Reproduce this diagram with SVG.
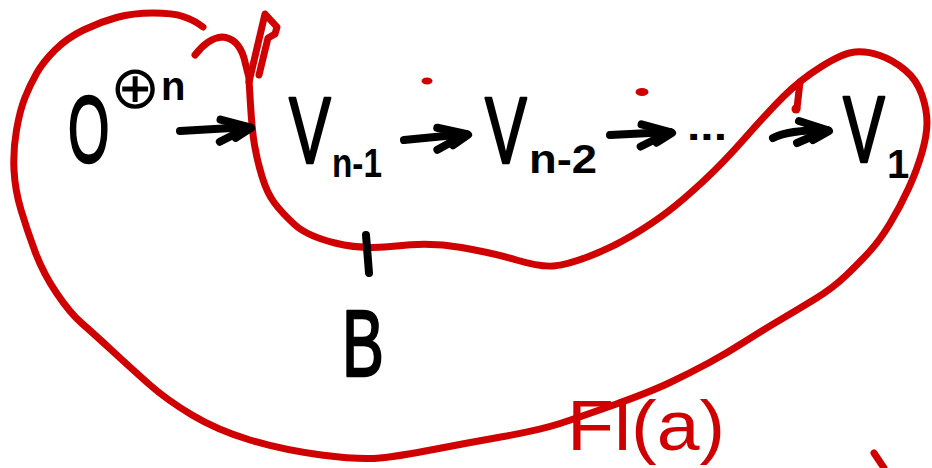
<svg xmlns="http://www.w3.org/2000/svg" width="932" height="468" viewBox="0 0 932 468">
<style>
  .ink { fill: none; stroke: #000; stroke-width: 8; stroke-linecap: round; stroke-linejoin: round; }
  .red { fill: none; stroke: #d00000; stroke-width: 7; stroke-linecap: round; stroke-linejoin: round; }
  .big { font-family: "Liberation Sans", Arial, sans-serif; font-size: 95px; fill: #000; stroke: #000; stroke-width: 2.5; stroke-linejoin: round; }
  .sub { font-family: "Liberation Sans", Arial, sans-serif; font-size: 40px; font-weight: bold; fill: #000; }
  .redtxt { font-family: "Liberation Sans", Arial, sans-serif; font-size: 70px; fill: #d00000; }
</style>
<defs>
  <marker id="dhead" markerUnits="userSpaceOnUse" markerWidth="40" markerHeight="40" refX="0" refY="0" orient="auto" overflow="visible">
    <path d="M-28,-9 L0,0 L-30,13 M-14,10 L2,1" fill="none" stroke="#000" stroke-width="8" stroke-linecap="round" stroke-linejoin="round"/>
  </marker>
</defs>
<rect width="932" height="468" fill="#fff"/>

<g id="region-flag">
  <path class="red" d="M249,80 L250.5,105 Q252,130 254.5,145 Q257,160 262,176.5 Q267,193 274.5,203 Q282,213 294.5,224.5 Q307,236 335,243 Q363,250 396.5,246 Q430,242 461.5,247.5 Q493,253 516.5,260 Q540,267 553.5,266 Q567,265 590,256 Q613,247 633,235 Q653,223 668,211.5 Q683,200 703,181.5 Q723,163 745,138 Q767,113 783.5,96.5 Q800,80 821.5,66.5 Q843,53 855,52 Q867,51 880,55.5 Q893,60 905,70 Q917,80 922,95 Q927,110 927,122.5 Q927,135 922,152.5 Q917,170 908.5,188.5 Q900,207 890,223.5 Q880,240 870,251 Q860,262 846.5,275 Q833,288 815,299 Q797,310 780,320 Q763,330 745,341.5 Q727,353 708.5,363 Q690,373 670,382.5 Q650,392 615,404.5 Q580,417 560,423.5 Q540,430 503.5,436.5 Q467,443 433.5,449.5 Q400,456 380,458 Q360,460 321.5,455 Q283,450 250,440 Q217,430 192,415 Q167,400 150,385 Q133,370 113,351.5 Q93,333 81.5,323 Q70,313 56.5,293 Q43,273 35,251.5 Q27,230 21,210 Q15,190 14,170 Q13,150 16.5,130 Q20,110 25,97.5 Q30,85 36.5,73.5 Q43,62 55,50 Q67,38 83.5,30 Q100,22 116.5,17.5 Q133,13 153,13 Q173,13 183,16.5 Q193,20 198,23.5 L203,27"/>
  <path class="red" d="M195,55 Q208,38 222,37 Q238,38 244,58 L249,78"/>
  <path class="red" d="M249,82 L265,14 L277,27 L275,34 L268,38 L259,75"/>
  <ellipse cx="427" cy="81" rx="5.5" ry="3.5" fill="#d00000"/>
  <ellipse cx="642" cy="92" rx="6.5" ry="4" fill="#d00000"/>
  <path class="red" d="M800,82 L797,108"/>
  <circle cx="796" cy="109" r="4.5" fill="#d00000"/>
  <path class="red" d="M874,453 L884,468"/>
</g>

<g id="label-flag">
  <text class="redtxt" x="567" y="450" textLength="158" lengthAdjust="spacingAndGlyphs">Fl(a)</text>
</g>

<g id="node-O">
  <text class="big" transform="translate(68,162) scale(0.56,1)" x="0" y="0">O</text>
  <text x="110" y="108" font-family="DejaVu Sans, sans-serif" font-size="60" fill="#000">⊕</text>
  <text class="sub" x="161" y="100" font-size="52" font-weight="normal">n</text>
</g>

<g id="node-Vn1">
  <text class="big" transform="translate(289,163) scale(0.66,1)" x="0" y="0">V</text>
  <text class="sub" x="332" y="177" textLength="50" lengthAdjust="spacingAndGlyphs">n-1</text>
</g>

<g id="node-Vn2">
  <text class="big" transform="translate(485,163) scale(0.66,1)" x="0" y="0">V</text>
  <text class="sub" x="529" y="173" textLength="68" lengthAdjust="spacingAndGlyphs">n-2</text>
</g>

<g id="node-dots">
  <text class="sub" x="687" y="140" font-size="48" textLength="40" lengthAdjust="spacingAndGlyphs">...</text>
</g>

<g id="node-V1">
  <text class="big" transform="translate(843,162) scale(0.66,1)" x="0" y="0">V</text>
  <text class="sub" x="887" y="178">1</text>
</g>

<g id="node-B">
  <text class="big" transform="translate(342,376) scale(0.66,1)" x="0" y="0">B</text>
</g>

<g id="connectors">
  <path class="ink" d="M180,131 L249,127" marker-end="url(#dhead)"/>
  <path class="ink" d="M404,140 L466,134" marker-end="url(#dhead)"/>
  <path class="ink" d="M610,135 L670,132" marker-end="url(#dhead)"/>
  <path class="ink" d="M773,138 Q788,130 827,130" marker-end="url(#dhead)"/>
  <path class="ink" d="M366,235 L369,273"/>
</g>
</svg>
